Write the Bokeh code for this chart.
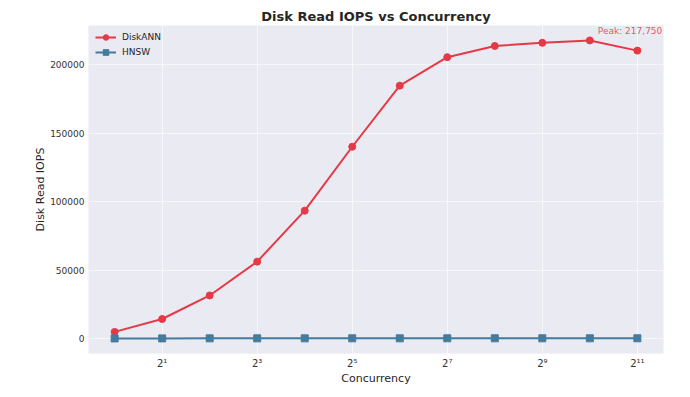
from bokeh.plotting import figure
from bokeh.models import Range1d, FixedTicker, NumeralTickFormatter, Label, Legend, LegendItem
from bokeh.embed import file_html
from bokeh.resources import INLINE

concurrency = [1, 2, 4, 8, 16, 32, 64, 128, 256, 512, 1024, 2048]
diskann_iops = [4900, 14300, 31500, 56200, 93400, 140100, 184700, 205500, 213700, 216000, 217750, 210300]
hnsw_iops = [120, 150, 170, 180, 190, 200, 200, 210, 210, 210, 210, 210]
x_ticks = [2, 8, 32, 128, 512, 2048]
x_tick_labels = ["2¹", "2³", "2⁵", "2⁷", "2⁹", "2¹¹"]
y_ticks = [0, 50000, 100000, 150000, 200000]
peak_value = max(diskann_iops)
peak_x = concurrency[diskann_iops.index(peak_value)]

RED = "#E63946"
BLUE = "#457B9D"
FONT = "DejaVu Sans"
TXT = "#333333"

p = figure(width=690, height=397, output_backend="svg", toolbar_location=None,
           x_axis_type="log",
           x_range=Range1d(2 ** -0.55, 2 ** 11.55),
           y_range=Range1d(-10887, 228637),
           min_border_left=88, min_border_right=27, min_border_top=25, min_border_bottom=44)

p.title.text = "Disk Read IOPS vs Concurrency"
p.title.text_font = FONT
p.title.text_font_size = "13px"
p.title.text_font_style = "bold"
p.title.text_color = "#262626"
p.title.align = "center"
p.title.standoff = 3
p.title.offset = 0

p.background_fill_color = "#EAEAF2"
p.border_fill_color = "white"
p.outline_line_color = None

for ax in (p.xaxis[0], p.yaxis[0]):
    ax.axis_line_color = None
    ax.major_tick_line_color = None
    ax.minor_tick_line_color = None
    ax.major_tick_out = 0
    ax.major_tick_in = 0
    ax.minor_tick_out = 0
    ax.major_label_text_font = FONT
    ax.major_label_text_font_size = "9px"
    ax.major_label_text_color = TXT
    ax.axis_label_text_font = FONT
    ax.axis_label_text_font_size = "11px"
    ax.axis_label_text_font_style = "normal"
    ax.axis_label_text_color = "#262626"

p.xaxis.ticker = FixedTicker(ticks=x_ticks)
p.xaxis.major_label_overrides = {t: l for t, l in zip(x_ticks, x_tick_labels)}
p.xaxis.major_label_text_font_size = "10px"
p.xaxis.axis_label = "Concurrency"
p.xaxis.major_label_standoff = 4
p.xaxis.axis_label_standoff = 0

p.yaxis.ticker = FixedTicker(ticks=y_ticks)
p.yaxis.formatter = NumeralTickFormatter(format="0")
p.yaxis.axis_label = "Disk Read IOPS"
p.yaxis.major_label_standoff = 4
p.yaxis.axis_label_standoff = 0

p.xgrid.grid_line_color = "white"
p.ygrid.grid_line_color = "white"
p.xgrid.grid_line_alpha = 0.6
p.ygrid.grid_line_alpha = 0.6
p.xgrid.grid_line_width = 1
p.ygrid.grid_line_width = 1

l1 = p.line(concurrency, diskann_iops, line_color=RED, line_width=2)
s1 = p.scatter(concurrency, diskann_iops, marker="circle", size=7, fill_color=RED, line_color=RED)
l2 = p.line(concurrency, hnsw_iops, line_color=BLUE, line_width=2)
s2 = p.scatter(concurrency, hnsw_iops, marker="square", size=7, fill_color=BLUE, line_color=BLUE)

legend = Legend(items=[LegendItem(label="DiskANN", renderers=[l1, s1]),
                       LegendItem(label="HNSW", renderers=[l2, s2])],
                location=(7, 294), margin=0, padding=0, spacing=1,
                glyph_width=21, glyph_height=14, label_height=14, label_standoff=6,
                label_text_font=FONT, label_text_font_size="9px", label_text_color="#262626",
                background_fill_alpha=0, border_line_alpha=0)
p.add_layout(legend, "center")

peak = Label(x=peak_x, y=peak_value, text=f"Peak: {peak_value:,}", x_offset=8, y_offset=9,
             text_align="left", text_baseline="middle", text_font=FONT, text_font_size="9px",
             text_color=RED, text_alpha=0.85)
p.add_layout(peak)

open("out.html", "w").write(file_html(p, INLINE))
